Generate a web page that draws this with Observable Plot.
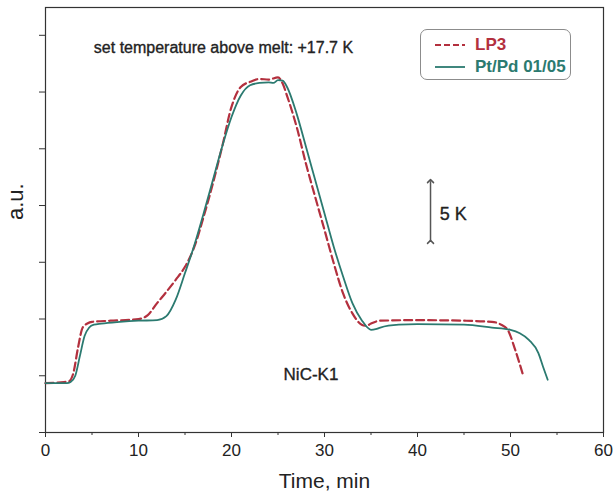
<!DOCTYPE html>
<html><head><meta charset="utf-8">
<script src="https://cdn.jsdelivr.net/npm/d3@7"></script>
<script src="https://cdn.jsdelivr.net/npm/@observablehq/plot@0.6"></script>
<style>
body{margin:0;background:#fff;font-family:"Liberation Sans",Arial,sans-serif;}
#wrap{position:relative;width:613px;height:498px;}
#legend{position:absolute;left:420px;top:29px;width:149px;height:49px;border:1.5px solid #8c8c8c;border-radius:7px;background:#fff;}
.row{position:absolute;left:14px;height:20px;display:flex;align-items:center;font-weight:bold;font-size:17px;}
.row svg{margin-right:10px;}
</style>
</head><body>
<div id="wrap"></div>
<script>
// LP3 (dashed red)
const timeLP3 = [0, 2, 2.5, 3, 3.5, 4, 4.5, 5, 7, 10, 11, 12, 13, 14, 15, 16, 17, 18, 19, 20, 21, 22, 23, 24, 25, 25.5, 26, 27, 28, 29, 30, 31, 32, 33, 34, 34.5, 35, 36, 40, 45, 48, 49, 49.7, 50.5, 51.3];
const valLP3  = [0.87, 0.89, 0.90, 1.05, 1.50, 1.85, 1.92, 1.95, 1.97, 2.00, 2.07, 2.28, 2.48, 2.69, 2.92, 3.27, 3.80, 4.39, 5.04, 5.74, 6.09, 6.18, 6.23, 6.22, 6.26, 6.15, 5.92, 5.39, 4.74, 4.15, 3.57, 2.98, 2.45, 2.10, 1.90, 1.88, 1.92, 1.97, 1.98, 1.97, 1.95, 1.90, 1.81, 1.46, 1.04];
// Pt/Pd 01/05 (solid teal)
const timePt = [0, 2.3, 2.7, 3.2, 3.7, 4.2, 4.7, 5.2, 6, 8, 10, 12, 13, 14, 15, 16, 17, 18, 19, 20, 21, 22, 23, 24, 24.5, 25, 25.5, 26, 27, 28, 29, 30, 31, 32, 33, 34, 35, 35.5, 36, 38, 40, 45, 48, 50, 51, 52, 53, 53.5, 54];
const valPt  = [0.87, 0.87, 0.89, 1.00, 1.35, 1.70, 1.85, 1.90, 1.92, 1.95, 1.97, 1.98, 2.05, 2.34, 2.81, 3.30, 3.86, 4.45, 5.04, 5.56, 5.94, 6.12, 6.16, 6.17, 6.16, 6.21, 6.20, 6.08, 5.62, 5.04, 4.45, 3.86, 3.27, 2.75, 2.28, 1.98, 1.81, 1.82, 1.85, 1.90, 1.91, 1.90, 1.85, 1.81, 1.75, 1.63, 1.40, 1.16, 0.93];
const seriesNames = ["LP3", "Pt/Pd 01/05"];
const xMajor = [0, 10, 20, 30, 40, 50, 60];
const xMinor = [5, 15, 25, 35, 45, 55];
const yTicks = [0, 1, 2, 3, 4, 5, 6, 7];

const colLP3 = "#b3303e", colPt = "#2b7a70";
const lp3 = timeLP3.map((t, i) => ({t, v: valLP3[i]}));
const pt = timePt.map((t, i) => ({t, v: valPt[i]}));
const font = '"Liberation Sans", Arial, sans-serif';
const thick = {stroke: "#222", strokeWidth: 0.35, fill: "#222"};

const chart = Plot.plot({
  width: 613, height: 498,
  marginLeft: 45, marginRight: 10, marginTop: 7, marginBottom: 66,
  style: {fontFamily: font, color: "#222", background: "#fff", overflow: "visible"},
  x: {domain: [0, 60]},
  y: {domain: [0, 7.49]},
  marks: [
    Plot.frame({stroke: "#333", strokeWidth: 1.2}),
    Plot.axisX({ticks: xMajor, tickSize: 5, tickPadding: 6, fontSize: 17, label: null, stroke: "#333"}),
    Plot.axisX({ticks: xMinor, tickSize: 3, tickFormat: () => "", label: null, stroke: "#333"}),
    Plot.axisY({ticks: yTicks, tickSize: 6, tickFormat: () => "", label: null, stroke: "#333"}),
    Plot.line(lp3, {x: "t", y: "v", stroke: colLP3, strokeWidth: 2.2, strokeDasharray: "8,4", curve: "monotone-x"}),
    Plot.line(pt, {x: "t", y: "v", stroke: colPt, strokeWidth: 1.8, curve: "monotone-x"}),
    Plot.text(["a.u."], {text: d => d, frameAnchor: "left", dx: -30, rotate: -90, fontSize: 22}),
    Plot.text(["Time, min"], {text: d => d, frameAnchor: "bottom", dy: 55, fontSize: 21}),
    Plot.text(["set temperature above melt: +17.7 K"], {text: d => d, x: 5.2, y: 6.77, textAnchor: "start", fontSize: 16, ...thick}),
    Plot.text(["NiC-K1"], {text: d => d, x: 25.6, y: 1.02, textAnchor: "start", fontSize: 17, ...thick}),
    Plot.text(["5 K"], {text: d => d, x: 42.4, y: 3.85, textAnchor: "start", fontSize: 18, ...thick}),
    Plot.link([0], {x1: 41.4, x2: 41.4, y1: 3.36, y2: 4.43, stroke: "#555", strokeWidth: 1.5, markerStart: "arrow", markerEnd: "arrow"})
  ]
});
const wrap = document.getElementById("wrap");
wrap.appendChild(chart);

const legend = document.createElement("div");
legend.id = "legend";
const rows = [
  {name: seriesNames[0], color: colLP3, dash: "6,3", top: 5},
  {name: seriesNames[1], color: colPt, dash: null, top: 27}
];
for (const r of rows) {
  const row = document.createElement("div");
  row.className = "row";
  row.style.top = r.top + "px";
  row.style.color = r.color;
  row.innerHTML = `<svg width="30" height="10"><line x1="0" x2="30" y1="5" y2="5" stroke="${r.color}" stroke-width="${r.dash ? 2 : 1.8}" ${r.dash ? `stroke-dasharray="${r.dash}"` : ""}/></svg><span>${r.name}</span>`;
  legend.appendChild(row);
}
wrap.appendChild(legend);
</script>
</body></html>
